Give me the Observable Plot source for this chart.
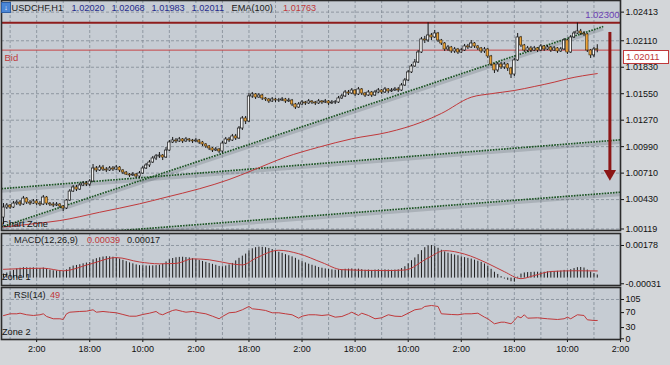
<!DOCTYPE html>
<html><head><meta charset="utf-8">
<script src="https://cdn.jsdelivr.net/npm/d3@7"></script>
<script src="https://cdn.jsdelivr.net/npm/@observablehq/plot@0.6"></script>
<style>
html,body{margin:0;padding:0;background:#d3d6d9;}
#wrap{position:relative;width:670px;height:365px;overflow:hidden;background:#d3d6d9;font-family:"Liberation Sans",Arial,sans-serif;}
#wrap svg{position:absolute;left:0;}
.t{position:absolute;font-size:9.2px;line-height:10px;white-space:nowrap;color:#151515;}
</style></head><body><div id="wrap"></div>
<script>
// ---------------- DATA ----------------
const symbol = "USDCHF,H1";
const open = [1.00240,1.00346,1.00367,1.00346,1.00388,1.00399,1.00378,1.00441,1.00399,1.00388,1.00410,1.00388,1.00378,1.00452,1.00388,1.00378,1.00367,1.00378,1.00357,1.00336,
1.00420,1.00515,1.00558,1.00536,1.00579,1.00600,1.00589,1.00621,1.00759,1.00738,1.00769,1.00748,1.00738,1.00759,1.00748,1.00769,1.00738,1.00716,1.00695,1.00685,
1.00695,1.00674,1.00706,1.00759,1.00791,1.00822,1.00865,1.00886,1.00896,1.00875,1.00949,1.01034,1.01055,1.01045,1.01066,1.01045,1.01066,1.01055,1.01045,1.01055,
1.01034,1.01013,1.00992,1.00971,1.00949,1.00960,1.00939,1.01023,1.01066,1.01055,1.01098,1.01076,1.01182,1.01288,1.01256,1.01521,1.01542,1.01510,1.01531,1.01500,
1.01489,1.01468,1.01489,1.01478,1.01478,1.01489,1.01468,1.01478,1.01436,1.01404,1.01436,1.01457,1.01447,1.01468,1.01457,1.01447,1.01468,1.01457,1.01468,1.01447,
1.01457,1.01457,1.01500,1.01521,1.01563,1.01552,1.01584,1.01542,1.01595,1.01552,1.01531,1.01563,1.01531,1.01563,1.01584,1.01563,1.01595,1.01574,1.01584,1.01595,
1.01584,1.01637,1.01690,1.01775,1.01838,1.01880,1.01986,1.02124,1.02113,1.02166,1.02145,1.02187,1.02113,1.02081,1.02018,1.02039,1.01997,1.02018,1.01986,1.02007,
1.02050,1.02039,1.02081,1.02050,1.02029,1.01997,1.02018,1.01944,1.01859,1.01796,1.01859,1.01828,1.01859,1.01817,1.01753,1.01902,1.02145,1.02060,1.02007,1.02029,
1.02007,1.02029,1.02007,1.02050,1.02018,1.02039,1.02007,1.02029,1.01997,1.02018,1.02113,1.01986,1.02145,1.02187,1.02208,1.02187,1.02177,1.02007,1.01955,1.02020];
const high = [1.00388,1.00388,1.00378,1.00410,1.00420,1.00420,1.00463,1.00452,1.00420,1.00431,1.00431,1.00410,1.00473,1.00463,1.00399,1.00399,1.00399,1.00388,1.00367,1.00431,
1.00536,1.00579,1.00579,1.00600,1.00621,1.00621,1.00642,1.00801,1.00780,1.00791,1.00791,1.00769,1.00780,1.00780,1.00791,1.00780,1.00748,1.00727,1.00706,1.00716,
1.00706,1.00727,1.00780,1.00812,1.00843,1.00886,1.00907,1.00928,1.00907,1.00981,1.01055,1.01087,1.01076,1.01087,1.01076,1.01087,1.01076,1.01066,1.01076,1.01066,
1.01045,1.01023,1.01002,1.00981,1.00981,1.00971,1.01045,1.01087,1.01087,1.01119,1.01119,1.01203,1.01309,1.01309,1.01552,1.01563,1.01552,1.01552,1.01542,1.01510,
1.01500,1.01510,1.01500,1.01500,1.01510,1.01500,1.01500,1.01489,1.01447,1.01457,1.01478,1.01468,1.01489,1.01478,1.01468,1.01489,1.01478,1.01489,1.01478,1.01478,
1.01478,1.01521,1.01542,1.01584,1.01584,1.01605,1.01595,1.01616,1.01605,1.01563,1.01584,1.01574,1.01584,1.01605,1.01595,1.01616,1.01605,1.01605,1.01616,1.01616,
1.01658,1.01711,1.01796,1.01859,1.01912,1.02007,1.02145,1.02156,1.02300,1.02187,1.02219,1.02198,1.02124,1.02092,1.02060,1.02050,1.02039,1.02029,1.02029,1.02071,
1.02071,1.02113,1.02092,1.02060,1.02039,1.02039,1.02029,1.01955,1.01870,1.01880,1.01880,1.01880,1.01870,1.01828,1.01923,1.02187,1.02156,1.02071,1.02050,1.02050,
1.02050,1.02039,1.02071,1.02060,1.02060,1.02050,1.02050,1.02039,1.02039,1.02134,1.02124,1.02166,1.02208,1.02298,1.02230,1.02208,1.02187,1.02018,1.02039,1.02068];
const low = [1.00166,1.00325,1.00325,1.00336,1.00367,1.00357,1.00367,1.00378,1.00367,1.00378,1.00367,1.00357,1.00367,1.00367,1.00357,1.00346,1.00357,1.00336,1.00304,1.00325,
1.00410,1.00505,1.00515,1.00526,1.00568,1.00568,1.00568,1.00611,1.00716,1.00727,1.00727,1.00716,1.00727,1.00727,1.00738,1.00716,1.00695,1.00685,1.00664,1.00674,
1.00653,1.00653,1.00695,1.00748,1.00769,1.00812,1.00843,1.00865,1.00843,1.00865,1.00939,1.01023,1.01023,1.01034,1.01023,1.01034,1.01034,1.01023,1.01034,1.01013,
1.00992,1.00971,1.00949,1.00928,1.00939,1.00918,1.00918,1.01013,1.01034,1.01045,1.01055,1.01066,1.01161,1.01224,1.01246,1.01500,1.01489,1.01500,1.01478,1.01468,
1.01447,1.01457,1.01457,1.01457,1.01468,1.01447,1.01457,1.01415,1.01383,1.01394,1.01425,1.01425,1.01436,1.01436,1.01425,1.01436,1.01436,1.01447,1.01425,1.01436,
1.01436,1.01447,1.01489,1.01510,1.01531,1.01542,1.01521,1.01531,1.01531,1.01510,1.01521,1.01510,1.01521,1.01552,1.01542,1.01552,1.01552,1.01563,1.01574,1.01563,
1.01574,1.01626,1.01679,1.01764,1.01828,1.01870,1.01976,1.02081,1.02092,1.02113,1.02134,1.02092,1.02060,1.01997,1.01997,1.01976,1.01976,1.01965,1.01976,1.01997,
1.02018,1.02029,1.02029,1.02007,1.01976,1.01976,1.01923,1.01838,1.01764,1.01775,1.01806,1.01806,1.01785,1.01711,1.01732,1.01891,1.02039,1.01986,1.01986,1.01986,
1.01997,1.01986,1.01997,1.01997,1.02007,1.01986,1.01997,1.01976,1.01986,1.02007,1.01965,1.01976,1.02134,1.02177,1.02166,1.02156,1.01986,1.01923,1.01933,1.01983];
const close = [1.00346,1.00367,1.00346,1.00388,1.00399,1.00378,1.00441,1.00399,1.00388,1.00410,1.00388,1.00378,1.00452,1.00388,1.00378,1.00367,1.00378,1.00357,1.00336,1.00420,
1.00515,1.00558,1.00536,1.00579,1.00600,1.00589,1.00621,1.00759,1.00738,1.00769,1.00748,1.00738,1.00759,1.00748,1.00769,1.00738,1.00716,1.00695,1.00685,1.00695,
1.00674,1.00706,1.00759,1.00791,1.00822,1.00865,1.00886,1.00896,1.00875,1.00949,1.01034,1.01055,1.01045,1.01066,1.01045,1.01066,1.01055,1.01045,1.01055,1.01034,
1.01013,1.00992,1.00971,1.00949,1.00960,1.00939,1.01023,1.01066,1.01055,1.01098,1.01076,1.01182,1.01288,1.01256,1.01521,1.01542,1.01510,1.01531,1.01500,1.01489,
1.01468,1.01489,1.01478,1.01480,1.01489,1.01468,1.01478,1.01436,1.01404,1.01436,1.01457,1.01447,1.01468,1.01457,1.01447,1.01468,1.01457,1.01468,1.01447,1.01457,
1.01460,1.01500,1.01521,1.01563,1.01552,1.01584,1.01542,1.01595,1.01552,1.01531,1.01563,1.01531,1.01563,1.01584,1.01563,1.01595,1.01574,1.01584,1.01595,1.01584,
1.01637,1.01690,1.01775,1.01838,1.01880,1.01986,1.02124,1.02113,1.02166,1.02145,1.02187,1.02113,1.02081,1.02018,1.02039,1.01997,1.02018,1.01986,1.02007,1.02050,
1.02039,1.02081,1.02050,1.02029,1.01997,1.02018,1.01944,1.01859,1.01796,1.01859,1.01828,1.01859,1.01817,1.01753,1.01902,1.02145,1.02060,1.02007,1.02029,1.02007,
1.02029,1.02007,1.02050,1.02018,1.02039,1.02007,1.02029,1.01997,1.02018,1.02113,1.01986,1.02145,1.02187,1.02208,1.02187,1.02177,1.02007,1.01955,1.02018,1.02011];

const emaIdx = [0, 9, 17, 29, 41, 49, 59, 68, 75, 85, 95, 105, 116, 126, 132, 141, 147, 154, 160, 166, 170, 179];
const emaVal = [1.00140,1.00174,1.00208,1.00296,1.00385,1.00455,1.00544,1.00642,1.00738,1.00879,1.00984,1.01073,1.01143,1.01249,1.01341,1.01513,1.01550,1.01584,1.01626,1.01672,1.01708,1.01763];

const trendX1 = [-0.6, -0.6, -0.6];
const trendY1 = [1.00141, 1.00545, 1.00006];
const trendX2 = [180.8, 186, 186];
const trendY2 = [1.02261, 1.01062, 1.00508];

const resistance = 1.02300;
const arrowIdx = 182.8, arrowFrom = 1.02198, arrowTo = 1.00737, arrowHead = 1.00706;

const macdHist = [0.00022,0.00028,0.00035,0.00042,0.00050,0.00054,0.00057,0.00056,0.00055,0.00056,0.00054,0.00052,0.00055,0.00048,0.00043,0.00040,0.00039,0.00038,0.00036,0.00045,
0.00058,0.00066,0.00069,0.00073,0.00078,0.00082,0.00085,0.00100,0.00106,0.00111,0.00115,0.00117,0.00116,0.00114,0.00110,0.00104,0.00097,0.00090,0.00083,0.00078,
0.00072,0.00068,0.00067,0.00066,0.00066,0.00067,0.00068,0.00070,0.00076,0.00088,0.00100,0.00107,0.00111,0.00113,0.00114,0.00112,0.00110,0.00106,0.00101,0.00096,
0.00091,0.00086,0.00080,0.00075,0.00070,0.00064,0.00062,0.00066,0.00072,0.00080,0.00094,0.00108,0.00120,0.00131,0.00148,0.00160,0.00166,0.00169,0.00168,0.00166,
0.00162,0.00156,0.00148,0.00141,0.00135,0.00128,0.00122,0.00116,0.00108,0.00098,0.00090,0.00083,0.00076,0.00070,0.00065,0.00058,0.00054,0.00050,0.00047,0.00045,
0.00043,0.00044,0.00045,0.00048,0.00049,0.00050,0.00047,0.00049,0.00046,0.00043,0.00044,0.00042,0.00044,0.00045,0.00043,0.00045,0.00044,0.00043,0.00044,0.00045,
0.00052,0.00062,0.00078,0.00095,0.00110,0.00128,0.00150,0.00166,0.00176,0.00178,0.00172,0.00163,0.00152,0.00143,0.00136,0.00130,0.00126,0.00122,0.00116,0.00112,
0.00108,0.00104,0.00098,0.00092,0.00086,0.00077,0.00064,0.00048,0.00032,0.00020,0.00008,-0.00005,-0.00012,-0.00020,-0.00022,0.00005,0.00022,0.00028,0.00030,0.00031,
0.00032,0.00032,0.00033,0.00032,0.00034,0.00035,0.00036,0.00037,0.00038,0.00042,0.00040,0.00046,0.00052,0.00057,0.00058,0.00055,0.00044,0.00033,0.00024,0.00017];
const signalIdx = [0, 12, 18, 26, 34, 41, 47, 52, 57, 62, 68, 72, 76, 83, 89, 96, 102, 115, 121, 128, 133, 139, 146, 151, 156, 160, 165, 172, 179];
const signalVal = [0.00048,0.00054,0.00040,0.00076,0.00112,0.00088,0.00078,0.00080,0.00105,0.00100,0.00080,0.00072,0.00108,0.00152,0.00133,0.00085,0.00046,0.00041,0.00044,0.00110,0.00150,0.00131,0.00080,0.00035,-0.00003,0.00014,0.00036,0.00040,0.00039];

const rsiIdx = [0,2,4,5,7,9,11,12,13,15,17,18,19,20,23,25,27,28,30,32,34,36,38,40,42,44,46,47,48,49,51,52,54,55,57,59,61,63,65,66,68,70,72,74,75,77,79,81,83,85,87,89,90,92,94,96,98,100,102,104,105,107,108,110,112,114,116,118,120,122,124,126,127,129,131,132,135,137,139,141,143,145,146,148,150,151,153,154,155,156,157,158,161,164,167,169,170,171,173,175,176,178,179];
const rsiVal = [62,66.8,66.8,68.4,64.2,62.3,64.2,66.8,59.6,53.5,53.5,51.6,66.8,71.1,73,73.8,77.5,71.1,73,71.1,69.5,65,60.4,60.4,65,68.4,73,66.8,64.2,68.4,75.7,77.5,73,71.1,73,69.5,66.8,60.4,53.5,59.6,69.5,71.1,77.5,86.4,80.2,78.3,75.7,69.5,69.5,66.8,64.2,55.1,60.4,64.2,64.2,62.3,64.2,57.8,59.6,66.8,71.1,62.3,68.4,62.3,53.5,56.1,64.2,60.4,59.6,68.4,77.5,80.2,86.4,89,86.4,66.8,65,64.2,66.8,66.8,68.4,57.8,53.5,40.1,44.4,44.4,40.1,48.9,59.6,56.1,64.2,55.1,56.1,53.5,51.6,53.5,57.8,53.5,64.2,62.3,50.8,48.9,49];

const mainTicks = [1.02413, 1.02110, 1.01830, 1.01550, 1.01270, 1.00990, 1.00710, 1.00430, 1.00119];
const macdTicks = [0.00178, -0.00031];
const rsiTicks = [105, 70, 30, 0];
const xTickIdx = [10, 26, 42, 58, 74, 90, 106, 122, 138, 154, 170, 186];
const xTickLabels = ["2:00","18:00","10:00","2:00","18:00","2:00","18:00","10:00","2:00","18:00","10:00","2:00"];
const gridIdx = [2,10,18,26,34,42,50,58,66,74,82,90,98,106,114,122,130,138,146,154,162,170,178];

// ---------------- BUILD ----------------
const N = close.length, last = N - 1;
const candles = d3.range(N).map(i => ({i, o: open[i], h: high[i], l: low[i], c: close[i], up: close[i] >= open[i]}));
const ema = emaIdx.map((i, k) => ({i, v: emaVal[k]}));
const trends = trendX1.map((x1, k) => ({x1, y1: trendY1[k], x2: trendX2[k], y2: trendY2[k]}));
const hist = macdHist.map((v, i) => ({i, v}));
const signal = signalIdx.map((i, k) => ({i, v: signalVal[k]}));
const rsi = rsiIdx.map((i, k) => ({i, v: rsiVal[k]}));
const arrow = [{i: arrowIdx, from: arrowFrom, to: arrowTo, head: arrowHead}];
const bid = close[last];

const FONT = '"Liberation Sans", Arial, sans-serif';
const STYLE = {background: "none", fontFamily: FONT, fontSize: "9px", color: "#111", overflow: "visible"};
const X_DOMAIN = [-0.6, 186];
const PANEL = "#c6ccd3";
const GRID = {stroke: "#7d8792", strokeOpacity: 0.75, strokeDasharray: "3,2", strokeWidth: 1};
const BORDER = {stroke: "#2b2b2b", strokeWidth: 1.6};
const bodyW = 0.36;

const wrap = document.getElementById("wrap");

const main = Plot.plot({
  width: 670, height: 231, marginLeft: 1, marginRight: 50, marginTop: 0, marginBottom: 1,
  x: {domain: X_DOMAIN, axis: null},
  y: {domain: [1.00103, 1.02536]},
  style: STYLE,
  marks: [
    Plot.frame({fill: PANEL, stroke: "none"}),
    Plot.gridX(gridIdx, GRID),
    Plot.gridY(mainTicks, GRID),
    Plot.axisY(mainTicks, {anchor: "right", label: null, tickSize: 3, tickPadding: 2, tickFormat: d => d.toFixed(5), fontSize: 9}),
    Plot.link(trends, {x1: "x1", y1: "y1", x2: "x2", y2: "y2", ariaLabel: "trend shadow", stroke: "#4a525b", strokeOpacity: 0.22, strokeWidth: 3, dy: 2.5, clip: true}),
    Plot.link(trends, {x1: "x1", y1: "y1", x2: "x2", y2: "y2", stroke: "#1e5526", strokeWidth: 1.7, strokeDasharray: "1.7,1.1", clip: true}),
    Plot.line(ema, {x: "i", y: "v", stroke: "#c0393b", strokeWidth: 1, curve: "monotone-x"}),
    Plot.ruleY([resistance], {stroke: "#8e1c1c", strokeWidth: 2}),
    Plot.ruleY([bid], {stroke: "#c64546", strokeWidth: 1}),
    Plot.ruleX(candles, {x: "i", y1: "l", y2: "h", stroke: "#151515", strokeWidth: 1}),
    Plot.rect(candles.filter(d => d.up), {x1: d => d.i - bodyW, x2: d => d.i + bodyW, y1: "o", y2: "c", fill: "#f3f3f3", stroke: "#151515", strokeWidth: 0.7}),
    Plot.rect(candles.filter(d => !d.up), {x1: d => d.i - bodyW, x2: d => d.i + bodyW, y1: "o", y2: "c", fill: "#eca339", stroke: "#3a2a10", strokeWidth: 0.6}),
    Plot.ruleX(arrow, {x: "i", y1: "from", y2: "to", stroke: "#8b1616", strokeWidth: 3}),
    Plot.dot(arrow, {x: "i", y: "head", symbol: "triangle", r: 4.6, rotate: 180, fill: "#8b1616", stroke: "none"}),
    Plot.text([resistance], {y: d => d, frameAnchor: "right", textAnchor: "end", dx: -1, dy: -8, text: d => d.toFixed(5), fill: "#6c3fb4", fontSize: 9.5}),
    Plot.text([bid], {y: d => d, frameAnchor: "left", textAnchor: "start", dx: 3, dy: 8, text: () => "Bid", fill: "#c0393b", fontSize: 9.5}),
    Plot.frame(BORDER)
  ]
});
main.style.top = "0px";
wrap.appendChild(main);
// soft shadow under the trend lines
const defs = d3.select(main).insert("defs", ":first-child");
defs.append("filter").attr("id", "tshadow").attr("x", "-5%").attr("y", "-20%").attr("width", "110%").attr("height", "140%")
  .append("feGaussianBlur").attr("stdDeviation", 1.3);
d3.select(main).selectAll('g[aria-label="trend shadow"]').attr("filter", "url(#tshadow)");

const macdPlot = Plot.plot({
  width: 670, height: 54, marginLeft: 1, marginRight: 50, marginTop: 1, marginBottom: 1,
  x: {domain: X_DOMAIN, axis: null},
  y: {domain: [-0.000404, 0.002435]},
  style: STYLE,
  marks: [
    Plot.frame({fill: PANEL, stroke: "none"}),
    Plot.gridX(gridIdx, GRID),
    Plot.gridY([macdTicks[0]], GRID),
    Plot.axisY(macdTicks, {anchor: "right", label: null, tickSize: 3, tickPadding: 2, tickFormat: d => d.toFixed(5), fontSize: 9}),
    Plot.ruleX(hist, {x: "i", y1: 0, y2: "v", stroke: "#1c1c1c", strokeWidth: 1}),
    Plot.line(signal, {x: "i", y: "v", stroke: "#c0393b", strokeWidth: 1, curve: "monotone-x"}),
    Plot.frame(BORDER)
  ]
});
macdPlot.style.top = "232px";
wrap.appendChild(macdPlot);

const rsiPlot = Plot.plot({
  width: 670, height: 80, marginLeft: 1, marginRight: 50, marginTop: 1, marginBottom: 27,
  x: {domain: X_DOMAIN},
  y: {domain: [-1.87, 137.06]},
  style: STYLE,
  marks: [
    Plot.frame({fill: PANEL, stroke: "none"}),
    Plot.gridX(gridIdx, GRID),
    Plot.gridY([105], GRID),
    Plot.axisY(rsiTicks, {anchor: "right", label: null, tickSize: 3, tickPadding: 2, fontSize: 9}),
    Plot.axisX(xTickIdx, {label: null, tickSize: 3, tickPadding: 3, fontSize: 9, tickFormat: d => xTickLabels[xTickIdx.indexOf(d)]}),
    Plot.line(rsi, {x: "i", y: "v", stroke: "#c0393b", strokeWidth: 1}),
    Plot.frame(BORDER)
  ]
});
rsiPlot.style.top = "286px";
wrap.appendChild(rsiPlot);

// ---------------- TEXT LABELS ----------------
const f5 = v => v.toFixed(5);
const labels = [
  {t: symbol, x: 11.5, y: 2.5, c: "#1a1a1a"},
  {t: f5(open[last]), x: 71.5, y: 2.5, c: "#1f2b8c"},
  {t: f5(high[last]), x: 111.5, y: 2.5, c: "#1f2b8c"},
  {t: f5(low[last]), x: 151.5, y: 2.5, c: "#1f2b8c"},
  {t: f5(close[last]), x: 191.5, y: 2.5, c: "#1f2b8c"},
  {t: "EMA(100)", x: 231.5, y: 2.5, c: "#1a1a1a"},
  {t: f5(emaVal[emaVal.length - 1]), x: 283, y: 2.5, c: "#c0393b"},
  {t: "Chart Zone", x: 2, y: 219, c: "#111"},
  {t: "MACD(12,26,9)", x: 14, y: 235, c: "#1a1a1a"},
  {t: f5(signalVal[signalVal.length - 1]), x: 87, y: 235, c: "#c0393b"},
  {t: f5(macdHist[last]), x: 127, y: 235, c: "#1a1a1a"},
  {t: "Zone 1", x: 2, y: 272, c: "#111"},
  {t: "RSI(14)", x: 14, y: 290, c: "#1a1a1a"},
  {t: String(Math.round(rsiVal[rsiVal.length - 1])), x: 50, y: 290, c: "#c0393b"},
  {t: "Zone 2", x: 2, y: 327, c: "#111"}
];
for (const L of labels) {
  const s = document.createElement("div");
  s.className = "t"; s.textContent = L.t;
  s.style.left = L.x + "px"; s.style.top = L.y + "px"; s.style.color = L.c;
  wrap.appendChild(s);
}
// symbol icon
const icon = document.createElement("div");
icon.style.cssText = "position:absolute;left:1px;top:2px;width:8px;height:9px;background:#4a86d6;border:1px solid #2d5fa6;color:#fff;font-size:7px;line-height:9px;text-align:center;";
icon.textContent = "↓";
wrap.appendChild(icon);
// bid price tag on the axis, positioned from the y scale
const yMain = main.scale("y");
const tag = document.createElement("div");
tag.className = "t";
tag.textContent = f5(bid);
tag.style.cssText += `left:623px;top:${yMain.apply(bid)}px;width:42px;height:12px;line-height:12px;background:#fff;border:1px solid #c0393b;color:#c0393b;padding-left:2px;font-size:9.5px;`;
wrap.appendChild(tag);
</script></body></html>
